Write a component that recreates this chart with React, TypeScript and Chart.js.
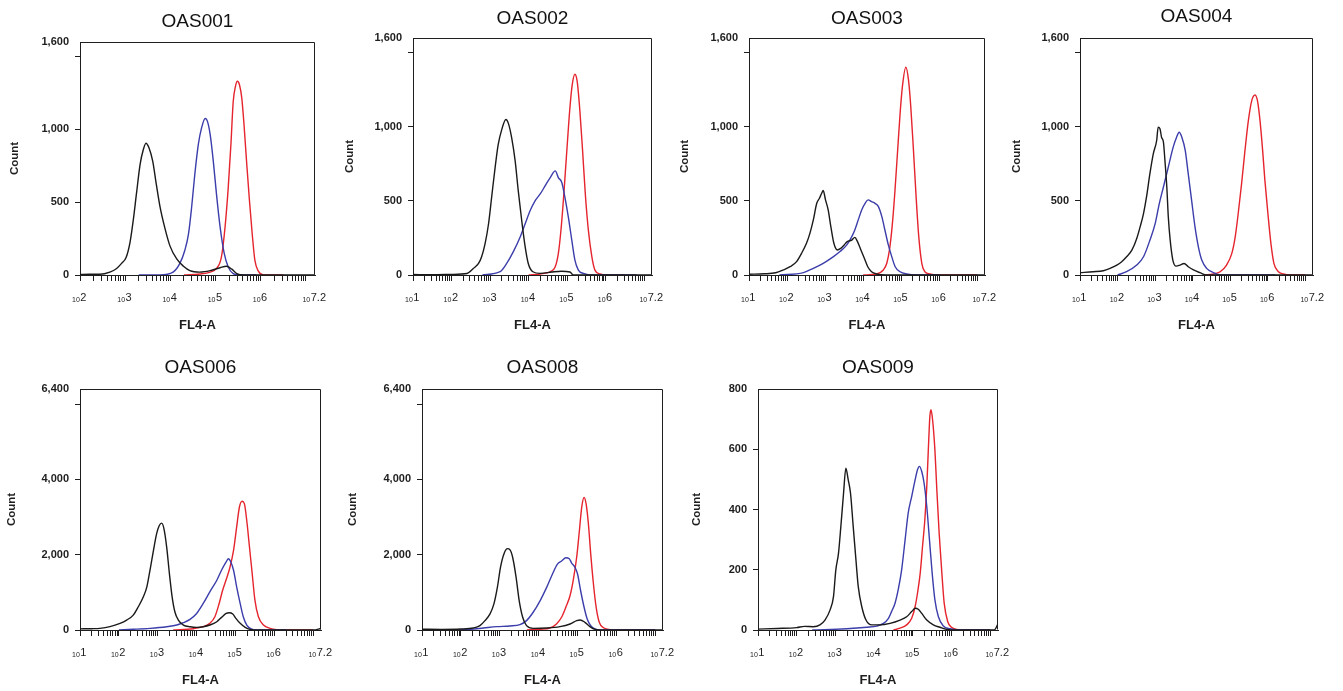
import React, { useEffect, useRef } from 'react';
import { Chart, registerables } from 'chart.js';

Chart.register(...registerables);

const FONT = '"Liberation Sans", Arial, Helvetica, sans-serif';
Chart.defaults.font.family = FONT;

// ---- data: [log10(FL4-A), Count] ----
const oas001Black = [[2.0,3],[2.2,5],[2.44,5],[2.66,20],[2.81,45],[2.92,80],[3.02,120],[3.11,230],[3.18,380],[3.25,560],[3.33,760],[3.40,860],[3.46,905],[3.53,870],[3.61,780],[3.68,640],[3.77,470],[3.88,320],[3.99,200],[4.14,110],[4.29,60],[4.43,30],[4.65,20],[4.88,30],[5.10,50],[5.24,60],[5.36,40],[5.47,10],[5.61,0],[7.2,0]];
const oas001Blue = [[3.3,0],[3.77,0],[4.06,20],[4.21,80],[4.32,170],[4.40,280],[4.47,465],[4.54,690],[4.62,900],[4.69,1010],[4.77,1075],[4.82,1055],[4.88,965],[4.95,780],[5.02,555],[5.10,330],[5.19,150],[5.28,55],[5.39,10],[5.54,0],[5.9,0]];
const oas001Red = [[4.3,0],[4.65,7],[4.88,20],[5.02,45],[5.13,125],[5.21,330],[5.28,600],[5.34,900],[5.39,1190],[5.44,1295],[5.48,1330],[5.53,1305],[5.58,1215],[5.63,1030],[5.69,760],[5.75,510],[5.81,285],[5.87,100],[5.95,25],[6.06,0],[6.5,0]];

const oas002Black = [[1.0,3],[1.5,2],[2.0,4],[2.4,10],[2.57,45],[2.70,78],[2.78,123],[2.87,212],[2.96,346],[3.04,525],[3.13,725],[3.21,880],[3.30,980],[3.41,1050],[3.47,1027],[3.56,926],[3.65,770],[3.73,570],[3.82,368],[3.91,190],[3.99,78],[4.11,22],[4.30,11],[4.6,20],[4.85,25],[5.07,20],[5.16,0],[7.2,0]];
const oas002Blue = [[2.8,0],[3.26,22],[3.43,78],[3.60,156],[3.78,257],[3.91,346],[4.04,435],[4.17,502],[4.30,547],[4.43,603],[4.56,658],[4.69,703],[4.77,658],[4.86,625],[4.94,525],[5.03,390],[5.12,234],[5.20,100],[5.29,33],[5.42,11],[5.68,0],[6.8,0]];
const oas002Red = [[4.0,0],[4.30,7],[4.56,22],[4.69,56],[4.77,145],[4.83,280],[4.90,500],[4.96,725],[5.02,950],[5.07,1127],[5.13,1283],[5.20,1355],[5.26,1305],[5.33,1105],[5.40,837],[5.47,547],[5.55,301],[5.64,123],[5.72,33],[5.85,7],[6.03,0],[6.5,0]];

const oas003Black = [[1.0,5],[1.4,8],[1.7,15],[1.90,34],[2.08,56],[2.25,90],[2.38,146],[2.51,214],[2.60,281],[2.69,372],[2.78,484],[2.85,518],[2.91,552],[2.95,570],[3.01,507],[3.08,439],[3.15,327],[3.23,214],[3.32,169],[3.41,180],[3.50,203],[3.58,225],[3.70,236],[3.78,254],[3.85,225],[3.94,169],[4.03,113],[4.12,56],[4.22,22],[4.35,7],[4.6,0],[7.2,0]];
const oas003Blue = [[1.8,0],[2.43,16],[2.69,45],[2.95,79],[3.22,124],[3.39,158],[3.57,203],[3.70,259],[3.78,304],[3.87,372],[3.96,439],[4.05,484],[4.13,507],[4.22,495],[4.31,484],[4.40,462],[4.49,394],[4.57,304],[4.66,203],[4.75,124],[4.84,56],[4.97,22],[5.14,7],[5.40,0],[6.0,0]];
const oas003Red = [[4.0,0],[4.35,7],[4.53,34],[4.62,79],[4.69,169],[4.76,327],[4.83,552],[4.90,822],[4.97,1092],[5.03,1272],[5.12,1403],[5.19,1317],[5.25,1137],[5.32,845],[5.39,529],[5.46,259],[5.54,79],[5.62,22],[5.75,7],[5.93,0],[7.0,0]];

const oas004Black = [[1.0,16],[1.35,22],[1.62,29],[1.80,45],[1.98,67],[2.11,90],[2.24,123],[2.38,168],[2.51,247],[2.60,325],[2.69,415],[2.77,527],[2.86,684],[2.95,818],[3.04,908],[3.08,998],[3.13,986],[3.17,930],[3.22,897],[3.26,773],[3.31,594],[3.35,392],[3.40,235],[3.47,101],[3.56,60],[3.66,67],[3.77,78],[3.88,56],[4.02,34],[4.19,16],[4.37,0],[7.2,0]];
const oas004Blue = [[2.0,0],[2.24,22],[2.51,67],[2.69,123],[2.86,235],[3.00,347],[3.11,482],[3.22,594],[3.35,729],[3.48,863],[3.57,930],[3.64,964],[3.71,930],[3.80,841],[3.88,684],[3.97,504],[4.06,325],[4.15,190],[4.24,101],[4.37,45],[4.55,16],[4.73,0],[6.2,0]];
const oas004Red = [[4.3,0],[4.55,7],[4.73,22],[4.90,67],[5.04,146],[5.13,258],[5.21,415],[5.30,617],[5.39,841],[5.48,1042],[5.57,1177],[5.66,1215],[5.73,1166],[5.79,1042],[5.86,841],[5.92,639],[6.00,415],[6.08,213],[6.16,78],[6.28,22],[6.41,7],[6.59,0],[7.0,0]];

const oas006Black = [[1.0,30],[1.3,35],[1.51,44],[1.77,88],[2.03,176],[2.20,264],[2.37,396],[2.50,617],[2.63,881],[2.72,1145],[2.80,1586],[2.89,2114],[2.97,2555],[3.04,2775],[3.10,2837],[3.16,2687],[3.23,2203],[3.30,1498],[3.37,881],[3.44,485],[3.53,264],[3.66,132],[3.83,88],[4.00,70],[4.17,88],[4.34,132],[4.52,220],[4.64,335],[4.76,440],[4.84,458],[4.93,423],[5.01,308],[5.12,176],[5.25,70],[5.37,18],[5.6,0],[7.0,0],[7.2,40]];
const oas006Blue = [[2.0,0],[2.37,18],[2.80,44],[3.23,88],[3.49,132],[3.66,194],[3.83,282],[4.00,440],[4.17,705],[4.34,1013],[4.52,1322],[4.64,1586],[4.76,1806],[4.82,1894],[4.88,1806],[4.95,1586],[5.03,1145],[5.12,705],[5.20,352],[5.29,132],[5.39,35],[5.55,0],[6.3,0]];
const oas006Red = [[3.4,0],[3.92,35],[4.17,88],[4.34,176],[4.47,352],[4.58,705],[4.67,1057],[4.77,1366],[4.86,1674],[4.95,2114],[5.03,2731],[5.10,3260],[5.17,3418],[5.23,3348],[5.29,2907],[5.36,2203],[5.43,1498],[5.50,793],[5.59,352],[5.72,132],[5.89,44],[6.06,9],[6.3,0],[7.0,0]];

const oas008Black = [[1.0,20],[1.5,15],[2.0,25],[2.32,53],[2.49,116],[2.62,249],[2.75,427],[2.85,693],[2.94,1138],[3.02,1671],[3.11,2027],[3.20,2160],[3.26,2134],[3.33,1938],[3.42,1405],[3.50,782],[3.59,338],[3.69,116],[3.86,44],[4.21,53],[4.55,89],[4.81,160],[4.98,249],[5.07,267],[5.19,204],[5.32,89],[5.45,18],[5.7,0],[7.2,0]];
const oas008Blue = [[1.9,0],[2.24,18],[2.58,53],[2.92,89],[3.26,107],[3.52,142],[3.69,249],[3.86,471],[4.04,782],[4.21,1138],[4.36,1494],[4.48,1742],[4.59,1831],[4.70,1920],[4.79,1894],[4.85,1778],[4.92,1689],[5.00,1494],[5.08,1049],[5.17,605],[5.25,293],[5.34,116],[5.45,27],[5.58,0],[7.0,0]];
const oas008Red = [[3.7,0],[4.04,18],[4.29,53],[4.46,160],[4.59,338],[4.70,605],[4.81,916],[4.89,1316],[4.98,1938],[5.05,2649],[5.11,3272],[5.17,3520],[5.22,3360],[5.28,2827],[5.34,2027],[5.41,1227],[5.48,605],[5.56,204],[5.68,53],[5.84,9],[6.01,0],[7.0,0]];

const oas009Black = [[1.0,3],[1.5,5],[2.0,8],[2.2,12],[2.43,11],[2.60,17],[2.73,33],[2.86,66],[2.95,111],[3.01,199],[3.08,255],[3.14,343],[3.21,454],[3.27,537],[3.33,499],[3.39,454],[3.46,343],[3.53,233],[3.59,144],[3.68,78],[3.79,33],[3.94,17],[4.15,17],[4.41,22],[4.67,33],[4.84,44],[4.97,61],[5.06,72],[5.14,69],[5.23,55],[5.36,33],[5.53,17],[5.70,9],[5.88,2],[6.2,0],[7.1,0],[7.2,20]];
const oas009Blue = [[2.4,0],[3.29,4],[3.81,9],[4.07,13],[4.24,22],[4.37,39],[4.45,61],[4.54,89],[4.63,139],[4.71,199],[4.80,299],[4.88,388],[4.97,443],[5.06,499],[5.12,532],[5.17,543],[5.23,526],[5.29,488],[5.36,410],[5.43,299],[5.50,188],[5.57,100],[5.66,44],[5.79,13],[5.96,4],[6.22,0],[7.0,0]];
const oas009Red = [[4.5,0],[4.67,6],[4.84,17],[4.97,39],[5.06,78],[5.12,122],[5.19,188],[5.25,277],[5.31,366],[5.36,476],[5.40,598],[5.44,709],[5.47,731],[5.51,698],[5.57,598],[5.62,465],[5.68,321],[5.75,188],[5.81,89],[5.90,28],[6.00,9],[6.13,2],[6.31,0],[7.0,0]];

// ---- axes ----
const panelTitles = ['OAS001', 'OAS002', 'OAS003', 'OAS004', 'OAS006', 'OAS008', 'OAS009'];
const countTicks1600 = [0, 500, 1000, 1500, 1600];
const countLabels1600 = ['0', '500', '1,000', '', '1,600'];
const countTicks6400 = [0, 2000, 4000, 6000, 6400];
const countLabels6400 = ['0', '2,000', '4,000', '', '6,400'];
const countTicks800 = [0, 200, 400, 600, 800];
const countLabels800 = ['0', '200', '400', '600', '800'];
const decadeLabelsFrom2 = ['2', '3', '4', '5', '6', '7.2'];
const decadeLabelsFrom1 = ['1', '2', '3', '4', '5', '6', '7.2'];
const X_MAX_EXP = 7.2;

// ---- layout (page px) ----
const Y_W = 80;
const PAD_R = 20;
const X_H = 60;
const layouts = [
  { l: 80, r: 315, t: 42, b: 275, titleY: 21.5, countX: 15 },
  { l: 413, r: 652, t: 38, b: 275, titleY: 18.3, countX: 350 },
  { l: 749, r: 985, t: 38, b: 275, titleY: 18.3, countX: 685 },
  { l: 1080, r: 1313, t: 38, b: 275, titleY: 17, countX: 1017 },
  { l: 80, r: 321, t: 389, b: 630, titleY: 368, countX: 12 },
  { l: 422, r: 663, t: 389, b: 630, titleY: 368, countX: 353 },
  { l: 758, r: 998, t: 389, b: 630, titleY: 368, countX: 697 },
];

const panels = [
  { series: [oas001Black, oas001Blue, oas001Red], yT: countTicks1600, yL: countLabels1600, xL: decadeLabelsFrom2 },
  { series: [oas002Black, oas002Blue, oas002Red], yT: countTicks1600, yL: countLabels1600, xL: decadeLabelsFrom1 },
  { series: [oas003Black, oas003Blue, oas003Red], yT: countTicks1600, yL: countLabels1600, xL: decadeLabelsFrom1 },
  { series: [oas004Black, oas004Blue, oas004Red], yT: countTicks1600, yL: countLabels1600, xL: decadeLabelsFrom1 },
  { series: [oas006Black, oas006Blue, oas006Red], yT: countTicks6400, yL: countLabels6400, xL: decadeLabelsFrom1 },
  { series: [oas008Black, oas008Blue, oas008Red], yT: countTicks6400, yL: countLabels6400, xL: decadeLabelsFrom1 },
  { series: [oas009Black, oas009Blue, oas009Red], yT: countTicks800, yL: countLabels800, xL: decadeLabelsFrom1 },
];

const lineColors = ['#1a1a1a', '#3b3dab', '#e5242d'];
const AXIS = '#1e1e1e';
const TEXT = '#1e1e1e';

const framePlugin = {
  id: 'frame',
  afterDatasetsDraw(chart: any) {
    const { ctx, chartArea } = chart;
    const L = Math.round(chartArea.left) + 0.5;
    const R = Math.round(chartArea.right) - 0.5;
    const T = Math.round(chartArea.top) + 0.5;
    const B = Math.round(chartArea.bottom) - 0.5;
    ctx.save();
    ctx.strokeStyle = AXIS;
    ctx.lineWidth = 1;
    ctx.beginPath();
    ctx.moveTo(L, T);
    ctx.lineTo(R, T);
    ctx.lineTo(R, B);
    ctx.stroke();
    ctx.restore();
  },
};

function makeDecadeLabelPlugin(exps: string[]) {
  return {
    id: 'decadeLabels',
    afterDraw(chart: any) {
      const { ctx, chartArea } = chart;
      const xs = chart.scales.x;
      ctx.save();
      ctx.fillStyle = TEXT;
      ctx.textAlign = 'left';
      ctx.textBaseline = 'alphabetic';
      for (const e of exps) {
        const px = xs.getPixelForValue(Math.pow(10, parseFloat(e)));
        ctx.font = `7px ${FONT}`;
        const w1 = ctx.measureText('10').width;
        ctx.font = `11px ${FONT}`;
        const w2 = ctx.measureText(e).width;
        const x0 = px - (w1 + w2) / 2 - 1;
        ctx.font = `7px ${FONT}`;
        ctx.fillText('10', x0, chartArea.bottom + 27);
        ctx.font = `11px ${FONT}`;
        ctx.fillText(e, x0 + w1 + 0.5, chartArea.bottom + 26);
      }
      ctx.restore();
    },
  };
}

function Panel({ idx }: { idx: number }) {
  const ref = useRef<HTMLCanvasElement>(null);
  const lay = layouts[idx];
  const p = panels[idx];
  const canvasLeft = lay.l - Y_W;
  const canvasTop = Math.floor(lay.titleY - 11.4);
  const width = lay.r - lay.l + Y_W + PAD_R;
  const height = lay.b + X_H - canvasTop;

  useEffect(() => {
    const canvas = ref.current;
    if (!canvas) return;
    const minExp = parseFloat(p.xL[0]);
    const xMin = Math.pow(10, minExp);
    const xMax = Math.pow(10, X_MAX_EXP);
    const yMax = p.yT[p.yT.length - 1];
    const xTickValues: number[] = [];
    for (let d = minExp; d <= 7; d++) {
      for (let k = 1; k <= 9; k++) {
        const v = k * Math.pow(10, d);
        if (v <= xMax * 1.0000001) xTickValues.push(v);
      }
    }
    const chart = new Chart(canvas, {
      type: 'line',
      data: {
        datasets: p.series.map((s, i) => ({
          data: s.map(([lx, c]) => ({ x: Math.pow(10, lx), y: c })),
          borderColor: lineColors[i],
          borderWidth: 1.4,
          pointRadius: 0,
          fill: false,
          cubicInterpolationMode: 'monotone' as const,
        })),
      },
      options: {
        animation: false,
        responsive: false,
        maintainAspectRatio: false,
        events: [],
        layout: { padding: { left: 0, right: PAD_R, top: 0, bottom: 0 } },
        plugins: {
          legend: { display: false },
          tooltip: { enabled: false },
          title: {
            display: true,
            text: panelTitles[idx],
            fullSize: false,
            color: '#111',
            font: { size: 19, weight: 'normal', family: FONT, lineHeight: 1.2 },
            padding: { top: lay.titleY - 11.4 - canvasTop, bottom: lay.t - (lay.titleY + 11.4) },
          },
        },
        scales: {
          x: {
            type: 'logarithmic',
            min: xMin,
            max: xMax,
            afterBuildTicks: (scale: any) => {
              scale.ticks = xTickValues.map((v) => ({ value: v }));
            },
            afterFit: (scale: any) => {
              scale.height = X_H;
            },
            ticks: { display: false, autoSkip: false },
            grid: { drawOnChartArea: false, drawTicks: true, tickLength: 6, color: AXIS, lineWidth: 1 },
            border: { display: true, color: AXIS, width: 1 },
            title: {
              display: true,
              text: 'FL4-A',
              color: TEXT,
              font: { size: 13, weight: 'bold', family: FONT, lineHeight: 1.2 },
              padding: { top: 0, bottom: 10 - 7.8 },
            },
          },
          y: {
            type: 'linear',
            min: 0,
            max: yMax,
            afterBuildTicks: (scale: any) => {
              scale.ticks = p.yT.map((v) => ({ value: v }));
            },
            afterFit: (scale: any) => {
              scale.width = Y_W;
            },
            ticks: {
              autoSkip: false,
              color: TEXT,
              padding: 6,
              font: { size: 11, weight: 'bold', family: FONT },
              callback: (v: any) => {
                const i = p.yT.indexOf(Number(v));
                return i >= 0 ? p.yL[i] : '';
              },
            },
            grid: {
              drawOnChartArea: false,
              drawTicks: true,
              tickLength: 5,
              color: AXIS,
              tickColor: (ctx: any) => (ctx.tick && ctx.tick.value === yMax ? 'rgba(0,0,0,0)' : AXIS),
            },
            border: { display: true, color: AXIS, width: 1 },
            title: {
              display: true,
              text: 'Count',
              color: TEXT,
              font: { size: 11.5, weight: 'bold', family: FONT, lineHeight: 1.2 },
              padding: { top: lay.countX - canvasLeft - 6.9, bottom: 0 },
            },
          },
        },
      } as any,
      plugins: [framePlugin, makeDecadeLabelPlugin(p.xL)],
    });
    return () => chart.destroy();
  }, []);

  return (
    <canvas
      ref={ref}
      width={width}
      height={height}
      style={{ position: 'absolute', left: canvasLeft, top: canvasTop, width, height }}
    />
  );
}

export default function App() {
  return (
    <div style={{ position: 'absolute', left: 0, top: 0, width: 1343, height: 691, background: '#fff', overflow: 'hidden' }}>
      {panels.map((_, i) => (
        <Panel key={i} idx={i} />
      ))}
    </div>
  );
}
